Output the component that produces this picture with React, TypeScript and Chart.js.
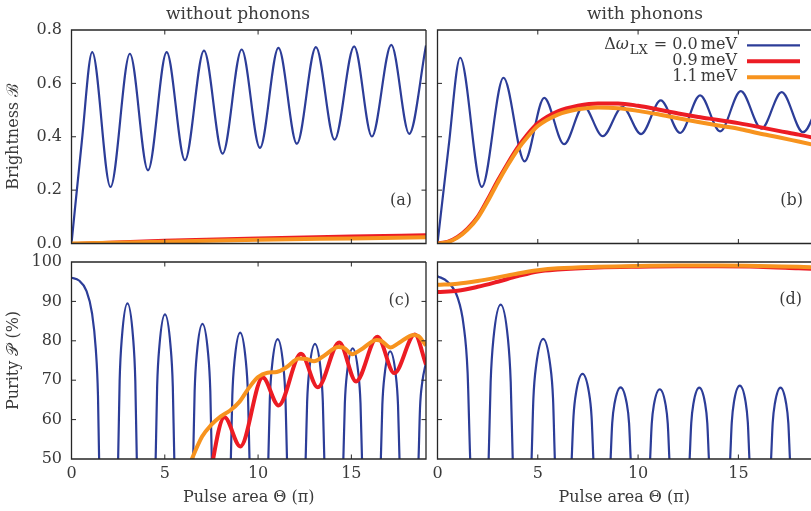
import React, { useEffect, useRef } from 'react';
import { Chart, registerables } from 'chart.js';

Chart.register(...registerables);

// ---------------- data ----------------
const X_TICKS = [0, 5, 10, 15];
const B_TICKS = [0, 0.2, 0.4, 0.6, 0.8];
const P_TICKS = [50, 60, 70, 80, 90, 100];
const TITLES = ['without phonons', 'with phonons'];
const PANEL_TAGS = ['(a)', '(b)', '(c)', '(d)'];
const LEGEND_LABELS = ['0.0\u2009meV', '0.9\u2009meV', '1.1\u2009meV'];
const X_LABEL = 'Pulse area Θ (π)';
const Y_LABEL_TOP = 'Brightness ℬ';
const Y_LABEL_BOTTOM = 'Purity 𝒫 (%)';

// (a) brightness, without phonons
const A_BLUE_X = [0, 0.55, 1.11, 2.09, 3.13, 4.1, 5.1, 6.08, 7.1, 8.1, 9.12, 10.1, 11.09, 12.08, 13.1, 14.1, 15.15, 16.1, 17.14, 18.1, 19.0];
const A_BLUE_Y = [0, 0.38, 0.717, 0.212, 0.711, 0.274, 0.717, 0.312, 0.723, 0.337, 0.727, 0.358, 0.733, 0.374, 0.736, 0.389, 0.739, 0.401, 0.744, 0.411, 0.742];
const A_LOW_X = [0, 5, 10, 15, 19];
const A_RED_Y = [-0.003, 0.01, 0.019, 0.026, 0.031];
const A_ORANGE_Y = [0, 0.007, 0.014, 0.019, 0.023];

// (b) brightness, with phonons
const B_BLUE_X = [0, 0.55, 1.13, 2.21, 3.29, 4.34, 5.32, 6.31, 7.28, 8.24, 9.22, 10.15, 11.13, 12.1, 13.09, 14.09, 15.12, 16.15, 17.16, 18.22, 19.2];
const B_BLUE_Y = [0, 0.36, 0.696, 0.212, 0.621, 0.308, 0.546, 0.372, 0.515, 0.402, 0.512, 0.41, 0.536, 0.414, 0.555, 0.42, 0.571, 0.43, 0.567, 0.417, 0.57];
const B_X = [0, 0.5, 1, 1.5, 2, 2.5, 3, 3.5, 4, 4.5, 5, 6, 7, 8, 9, 10, 11, 12, 13, 14, 15, 16, 17, 18, 19];
const B_RED_Y = [0, 0.006, 0.025, 0.056, 0.1, 0.165, 0.235, 0.3, 0.36, 0.41, 0.45, 0.495, 0.516, 0.525, 0.525, 0.516, 0.502, 0.487, 0.474, 0.463, 0.451, 0.437, 0.422, 0.408, 0.392];
const B_ORANGE_Y = [0, 0.005, 0.022, 0.052, 0.095, 0.158, 0.228, 0.293, 0.352, 0.4, 0.44, 0.483, 0.503, 0.51, 0.507, 0.497, 0.484, 0.469, 0.455, 0.442, 0.43, 0.413, 0.398, 0.382, 0.366];

// (c) purity, without phonons
const C_BLUE_X = [
  0, 0.4, 0.8, 1.1, 1.3, 1.42, 1.48, 2.0,
  2.5, 2.58, 2.7, 3.0, 3.3, 3.42, 3.5, 4.0,
  4.51, 4.59, 4.71, 5.01, 5.31, 5.43, 5.51, 6.01,
  6.52, 6.6, 6.72, 7.02, 7.32, 7.44, 7.52, 8.03,
  8.54, 8.62, 8.74, 9.04, 9.34, 9.46, 9.54, 10.04,
  10.55, 10.63, 10.75, 11.05, 11.35, 11.47, 11.55, 12.05,
  12.55, 12.63, 12.75, 13.05, 13.35, 13.47, 13.55, 14.06,
  14.57, 14.65, 14.77, 15.07, 15.37, 15.49, 15.57, 16.08,
  16.58, 16.66, 16.78, 17.08, 17.38, 17.5, 17.58, 18.09,
  18.6, 18.68, 18.8, 19.0,
];
const C_BLUE_Y = [
  96, 95.3, 92.7, 87, 78, 66, 50, 0,
  50, 69.8, 80.8, 89.5, 80.8, 69.8, 50, 0,
  50, 68.4, 78.6, 86.7, 78.6, 68.4, 50, 0,
  50, 67.2, 76.8, 84.3, 76.8, 67.2, 50, 0,
  50, 66.1, 75.0, 82.1, 75.0, 66.1, 50, 0,
  50, 65.2, 73.7, 80.4, 73.7, 65.2, 50, 0,
  50, 64.6, 72.8, 79.2, 72.8, 64.6, 50, 0,
  50, 64.1, 71.9, 78.1, 71.9, 64.1, 50, 0,
  50, 63.7, 71.3, 77.3, 71.3, 63.7, 50, 0,
  50, 63.0, 69.5, 74.5,
];
const C_RED_X = [7.2, 8.2, 9.05, 10.25, 11.1, 12.3, 13.2, 14.35, 15.25, 16.4, 17.3, 18.4, 19.0];
const C_RED_Y = [40, 60.6, 53.2, 70.7, 63.6, 76.7, 68.2, 79.6, 69.7, 81.0, 71.8, 81.6, 74.0];
const C_ORANGE_X = [6.1, 7.0, 7.5, 8.0, 8.5, 9.0, 9.5, 10.0, 10.5, 11.0, 11.5, 12.2, 12.6, 13.0, 13.5, 14.3, 14.6, 15.05, 15.5, 16.35, 16.6, 17.1, 17.5, 18.35, 18.6, 19.0];
const C_ORANGE_Y = [46, 55.7, 58.7, 60.8, 62.3, 64.5, 68, 70.8, 71.9, 72.1, 73.2, 75.5, 75.4, 74.8, 76.1, 78.4, 78.2, 76.6, 77.7, 80.2, 80.0, 78.3, 79.3, 81.5, 81.2, 78.8];

// (d) purity, with phonons
const D_BLUE_X = [
  0, 0.5, 1.0, 1.3, 1.5, 1.63, 2.1,
  2.55, 2.65, 2.79, 3.15, 3.51, 3.65, 3.75, 4.25,
  4.69, 4.78, 4.92, 5.27, 5.62, 5.76, 5.85, 6.27,
  6.69, 6.78, 6.91, 7.23, 7.55, 7.68, 7.77, 8.2,
  8.63, 8.71, 8.83, 9.13, 9.43, 9.55, 9.63, 10.1,
  10.6, 10.68, 10.79, 11.08, 11.37, 11.48, 11.56, 12.06,
  12.57, 12.65, 12.76, 13.05, 13.34, 13.45, 13.53, 14.05,
  14.59, 14.67, 14.78, 15.07, 15.36, 15.47, 15.55, 16.1,
  16.63, 16.71, 16.82, 17.1, 17.38, 17.49, 17.57, 18.1,
  18.62,
];
const D_BLUE_Y = [
  96.4, 95, 91, 84, 72, 50, 0,
  50, 69.6, 80.6, 89.2, 80.6, 69.6, 50, 0,
  50, 65.3, 73.8, 80.5, 73.8, 65.3, 50, 0,
  50, 60.8, 66.9, 71.6, 66.9, 60.8, 50, 0,
  50, 59.1, 64.2, 68.2, 64.2, 59.1, 50, 0,
  50, 58.9, 63.8, 67.7, 63.8, 58.9, 50, 0,
  50, 59.1, 64.1, 68.1, 64.1, 59.1, 50, 0,
  50, 59.3, 64.5, 68.6, 64.5, 59.3, 50, 0,
  50, 59.1, 64.1, 68.1, 64.1, 59.1, 50, 0,
  25,
];
const D_X = [0, 1, 2, 3, 4, 5, 6, 8, 10, 12, 14, 16, 18, 19];
const D_RED_Y = [92.4, 92.7, 93.7, 95.0, 96.4, 97.6, 98.1, 98.6, 98.8, 98.9, 98.9, 98.8, 98.4, 98.2];
const D_ORANGE_Y = [94.2, 94.5, 95.2, 96.1, 97.1, 97.9, 98.4, 98.8, 99.0, 99.1, 99.1, 99.0, 98.8, 98.6];

// ---------------- style ----------------
const W = 811;
const H = 511;
const FONT = '"DejaVu Serif", "Liberation Serif", serif';
const TEXT = '#3a3a3a';
const FRAME = '#262626';
const BLUE = '#2c3d98';
const RED = '#ec1c24';
const ORANGE = '#f7931e';

type Series = { xs: number[]; ys: number[]; color: string; width: number; order: number };
type PanelSpec = {
  row: number;
  col: number;
  tag: string;
  tagX: number;
  tagY: number;
  title?: string;
  titleX?: number;
  legend?: boolean;
  series: Series[];
};

const PANELS: PanelSpec[] = [
  {
    row: 0, col: 0, tag: PANEL_TAGS[0], tagX: 412, tagY: 201, title: TITLES[0], titleX: 238,
    series: [
      { xs: A_BLUE_X, ys: A_BLUE_Y, color: BLUE, width: 2.2, order: 3 },
      { xs: A_LOW_X, ys: A_RED_Y, color: RED, width: 4, order: 2 },
      { xs: A_LOW_X, ys: A_ORANGE_Y, color: ORANGE, width: 4, order: 1 },
    ],
  },
  {
    row: 0, col: 1, tag: PANEL_TAGS[1], tagX: 803, tagY: 201, title: TITLES[1], titleX: 645, legend: true,
    series: [
      { xs: B_BLUE_X, ys: B_BLUE_Y, color: BLUE, width: 2.2, order: 3 },
      { xs: B_X, ys: B_RED_Y, color: RED, width: 4, order: 2 },
      { xs: B_X, ys: B_ORANGE_Y, color: ORANGE, width: 4, order: 1 },
    ],
  },
  {
    row: 1, col: 0, tag: PANEL_TAGS[2], tagX: 410, tagY: 301,
    series: [
      { xs: C_BLUE_X, ys: C_BLUE_Y, color: BLUE, width: 2.2, order: 3 },
      { xs: C_RED_X, ys: C_RED_Y, color: RED, width: 4, order: 2 },
      { xs: C_ORANGE_X, ys: C_ORANGE_Y, color: ORANGE, width: 4, order: 1 },
    ],
  },
  {
    row: 1, col: 1, tag: PANEL_TAGS[3], tagX: 802, tagY: 300,
    series: [
      { xs: D_BLUE_X, ys: D_BLUE_Y, color: BLUE, width: 2.2, order: 3 },
      { xs: D_X, ys: D_RED_Y, color: RED, width: 4, order: 2 },
      { xs: D_X, ys: D_ORANGE_Y, color: ORANGE, width: 4, order: 1 },
    ],
  },
];

function drawLegend(ctx: CanvasRenderingContext2D) {
  const rightX = 737;
  const baselines = [48.7, 64.7, 80.7];
  const lineYs = [45.3, 61.3, 77.3];
  const colors = [BLUE, RED, ORANGE];
  const widths = [2.2, 4, 4];
  const main = `16px ${FONT}`;
  ctx.fillStyle = TEXT;
  ctx.textBaseline = 'alphabetic';
  ctx.textAlign = 'left';
  const parts = [
    { t: 'Δ', f: main, dy: 0, gap: 0 },
    { t: 'ω', f: `italic 16px ${FONT}`, dy: 0, gap: 1 },
    { t: 'LX', f: `13px ${FONT}`, dy: 5.5, gap: 6 },
    { t: '= ' + LEGEND_LABELS[0], f: main, dy: 0, gap: 0 },
  ];
  let total = 0;
  for (const p of parts) {
    ctx.font = p.f;
    total += ctx.measureText(p.t).width + p.gap;
  }
  let x = rightX - total;
  for (const p of parts) {
    ctx.font = p.f;
    ctx.fillText(p.t, x, baselines[0] + p.dy);
    x += ctx.measureText(p.t).width + p.gap;
  }
  ctx.font = main;
  ctx.textAlign = 'right';
  ctx.fillText(LEGEND_LABELS[1], rightX, baselines[1]);
  ctx.fillText(LEGEND_LABELS[2], rightX, baselines[2]);
  for (let i = 0; i < 3; i++) {
    ctx.strokeStyle = colors[i];
    ctx.lineWidth = widths[i];
    ctx.beginPath();
    ctx.moveTo(747, lineYs[i]);
    ctx.lineTo(800, lineYs[i]);
    ctx.stroke();
  }
}

const decoPlugin = {
  id: 'deco',
  afterDatasetsDraw(chart: any, _args: any, o: any) {
    const { ctx, chartArea: a, scales } = chart;
    const sx = scales.x;
    const sy = scales.y;
    ctx.save();
    ctx.strokeStyle = FRAME;
    ctx.lineWidth = 1.3;
    ctx.beginPath();
    const rEnd = o.rightBorder ? a.right : a.right + 5;
    ctx.moveTo(rEnd, a.top);
    ctx.lineTo(a.left, a.top);
    ctx.lineTo(a.left, a.bottom);
    ctx.lineTo(rEnd, a.bottom);
    if (o.rightBorder) ctx.lineTo(a.right, a.top);
    ctx.stroke();

    const tl = 4.5;
    ctx.lineWidth = 1;
    ctx.beginPath();
    for (const v of X_TICKS) {
      const px = sx.getPixelForValue(v);
      if (px <= a.left + 1 || px >= a.right - 1) continue;
      ctx.moveTo(px, a.bottom);
      ctx.lineTo(px, a.bottom - tl);
      ctx.moveTo(px, a.top);
      ctx.lineTo(px, a.top + tl);
    }
    for (const v of o.yTicks) {
      const py = sy.getPixelForValue(v);
      if (py <= a.top + 1 || py >= a.bottom - 1) continue;
      ctx.moveTo(a.left, py);
      ctx.lineTo(a.left + tl, py);
      if (o.rightBorder) {
        ctx.moveTo(a.right, py);
        ctx.lineTo(a.right - tl, py);
      }
    }
    ctx.stroke();

    ctx.fillStyle = TEXT;
    ctx.font = `16px ${FONT}`;
    ctx.textAlign = 'right';
    ctx.textBaseline = 'middle';
    ctx.fillText(o.tag, o.tagX, o.tagY);

    if (o.title) {
      ctx.font = `17px ${FONT}`;
      ctx.textAlign = 'center';
      ctx.textBaseline = 'alphabetic';
      ctx.fillText(o.title, o.titleX, 19);
    }
    if (o.legend) drawLegend(ctx);
    ctx.restore();
  },
};

function makeConfig(p: PanelSpec): any {
  const isLeft = p.col === 0;
  const isTop = p.row === 0;
  const yTicks = isTop ? B_TICKS : P_TICKS;
  const tickFont = { family: FONT, size: 16 };
  return {
    type: 'line',
    data: {
      datasets: p.series.map((s) => ({
        data: s.xs.map((x, i) => ({ x, y: s.ys[i] })),
        borderColor: s.color,
        borderWidth: s.width,
        pointRadius: 0,
        cubicInterpolationMode: 'monotone',
        fill: false,
        order: s.order,
      })),
    },
    options: {
      animation: false,
      responsive: false,
      events: [],
      layout: {
        padding: {
          left: isLeft ? 0 : 437.5,
          right: isLeft ? 385 : 0,
          top: isTop ? 30 : 262,
          bottom: isTop ? 267.5 : 0,
        },
      },
      plugins: {
        legend: { display: false },
        tooltip: { enabled: false },
        deco: {
          rightBorder: isLeft,
          yTicks,
          tag: p.tag,
          tagX: p.tagX,
          tagY: p.tagY,
          title: p.title,
          titleX: p.titleX,
          legend: !!p.legend,
        },
      },
      scales: {
        x: {
          type: 'linear',
          min: 0,
          max: isLeft ? 19 : 18.62,
          display: !isTop,
          grid: { display: false, drawTicks: false },
          border: { display: false },
          ticks: {
            stepSize: 5,
            includeBounds: false,
            autoSkip: false,
            maxRotation: 0,
            padding: 5.5,
            color: TEXT,
            font: tickFont,
          },
          title: {
            display: true,
            text: X_LABEL,
            color: TEXT,
            font: tickFont,
            padding: { top: 0, bottom: 3.4 },
          },
          afterFit: (s: any) => {
            s.height = isTop ? 0 : 52;
          },
        },
        y: {
          type: 'linear',
          min: isTop ? 0 : 50,
          max: isTop ? 0.8 : 100,
          display: isLeft,
          grid: { display: false, drawTicks: false },
          border: { display: false },
          ticks: {
            stepSize: isTop ? 0.2 : 10,
            includeBounds: false,
            padding: 9.5,
            color: TEXT,
            font: tickFont,
            callback: (v: any) => (isTop ? Number(v).toFixed(1) : String(Math.round(Number(v)))),
          },
          title: {
            display: true,
            text: isTop ? Y_LABEL_TOP : Y_LABEL_BOTTOM,
            color: TEXT,
            font: tickFont,
            padding: { top: 4.4, bottom: 0 },
          },
          afterFit: (s: any) => {
            s.width = isLeft ? 71.5 : 0;
          },
        },
      },
    },
    plugins: [decoPlugin],
  };
}

function PanelCanvas({ panel }: { panel: PanelSpec }) {
  const ref = useRef<HTMLCanvasElement | null>(null);
  useEffect(() => {
    if (!ref.current) return;
    const chart = new Chart(ref.current, makeConfig(panel));
    return () => chart.destroy();
  }, [panel]);
  return (
    <canvas
      ref={ref}
      width={W}
      height={H}
      style={{ position: 'absolute', left: 0, top: 0, width: W, height: H, pointerEvents: 'none' }}
    />
  );
}

export default function App() {
  return (
    <div style={{ position: 'fixed', left: 0, top: 0, width: W, height: H, background: '#ffffff', overflow: 'hidden' }}>
      {PANELS.map((p, i) => (
        <PanelCanvas key={i} panel={p} />
      ))}
    </div>
  );
}
